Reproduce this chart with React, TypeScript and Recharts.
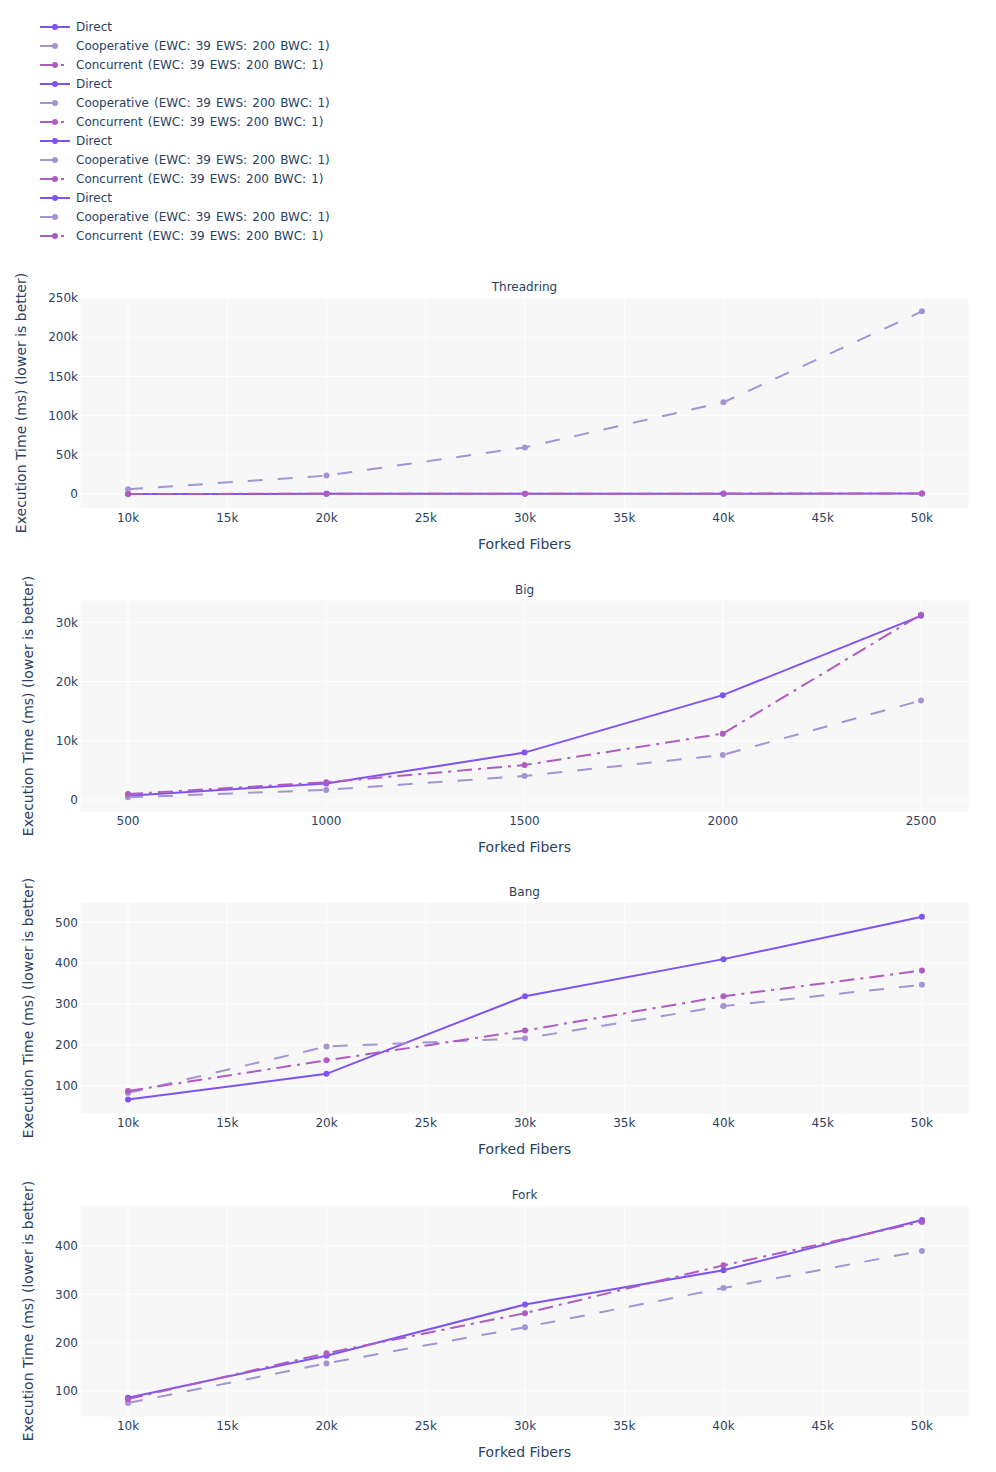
import { LineChart, Line, XAxis, YAxis, CartesianGrid } from "recharts";

// x values
const fibers = [10000, 20000, 30000, 40000, 50000];
const bigFibers = [500, 1000, 1500, 2000, 2500];

// Threadring
const threadringDirect = [110, 230, 340, 460, 570];
const threadringCoop = [6000, 23500, 59500, 117000, 233000];
const threadringConc = [130, 260, 390, 520, 650];

// Big
const bigDirect = [700, 2800, 8000, 17700, 31100];
const bigCoop = [450, 1700, 4050, 7600, 16800];
const bigConc = [1000, 3000, 5900, 11200, 31300];

// Bang
const bangDirect = [66, 129, 319, 410, 514];
const bangCoop = [82, 196, 216, 295, 347];
const bangConc = [87, 162, 235, 319, 382];

// Fork
const forkDirect = [86, 173, 279, 350, 454];
const forkCoop = [75, 157, 232, 313, 390];
const forkConc = [83, 178, 261, 360, 450];

const seriesNames = ["Direct", "Cooperative (EWC: 39 EWS: 200 BWC: 1)", "Concurrent (EWC: 39 EWS: 200 BWC: 1)"];
const kTicks = [10000, 15000, 20000, 25000, 30000, 35000, 40000, 45000, 50000];

const colors = ["#7f52f3", "#a593d4", "#ae5cc2"];
const dashes = ["", "15 15", "15 6 3 6"];
const textColor = "#2a3f5f";
const font = "'DejaVu Sans', Verdana, sans-serif";

const kFmt = (v: number) => (v === 0 ? "0" : v >= 1000 ? `${v / 1000}k` : `${v}`);

type Panel = {
  title: string;
  top: number;
  xs: number[];
  series: number[][];
  xDomain: [number, number];
  xTicks: number[];
  xFmt: (v: number) => string;
  yDomain: [number, number];
  yTicks: number[];
  yLabelX: number;
};

const panels: Panel[] = [
  {
    title: "Threadring",
    top: 297,
    xs: fibers,
    series: [threadringDirect, threadringCoop, threadringConc],
    xDomain: [7580, 52370],
    xTicks: kTicks,
    xFmt: kFmt,
    yDomain: [-19100, 251300],
    yTicks: [0, 50000, 100000, 150000, 200000, 250000],
    yLabelX: 21,
  },
  {
    title: "Big",
    top: 600,
    xs: bigFibers,
    series: [bigDirect, bigCoop, bigConc],
    xDomain: [379, 2621],
    xTicks: bigFibers,
    xFmt: (v) => `${v}`,
    yDomain: [-2030, 33770],
    yTicks: [0, 10000, 20000, 30000],
    yLabelX: 28,
  },
  {
    title: "Bang",
    top: 902,
    xs: fibers,
    series: [bangDirect, bangCoop, bangConc],
    xDomain: [7580, 52370],
    xTicks: kTicks,
    xFmt: kFmt,
    yDomain: [30.6, 550],
    yTicks: [100, 200, 300, 400, 500],
    yLabelX: 28,
  },
  {
    title: "Fork",
    top: 1205,
    xs: fibers,
    series: [forkDirect, forkCoop, forkConc],
    xDomain: [7580, 52370],
    xTicks: kTicks,
    xFmt: kFmt,
    yDomain: [46, 485],
    yTicks: [100, 200, 300, 400],
    yLabelX: 28,
  },
];

const Legend = () => {
  const items: number[] = [];
  for (let g = 0; g < 4; g++) for (let s = 0; s < 3; s++) items.push(s);
  return (
    <svg width={996} height={250} style={{ position: "absolute", left: 0, top: 0 }}>
      {items.map((s, i) => {
        const y = 27 + i * 19;
        return (
          <g key={i}>
            <line x1={40} x2={70} y1={y} y2={y} stroke={colors[s]} strokeWidth={2} strokeDasharray={dashes[s] || undefined} />
            <circle cx={55} cy={y} r={3} fill={colors[s]} />
            <text x={76} y={y + 4} fontSize={12} fill={textColor} fontFamily={font} wordSpacing={1.3}>
              {seriesNames[s]}
            </text>
          </g>
        );
      })}
    </svg>
  );
};

const PanelChart = ({ p }: { p: Panel }) => {
  const data = p.xs.map((x, i) => ({ x, s0: p.series[0][i], s1: p.series[1][i], s2: p.series[2][i] }));
  return (
    <div style={{ position: "absolute", left: 0, top: p.top - 27, width: 996, height: 290 }}>
      <div
        style={{
          position: "absolute",
          left: 80,
          width: 889,
          top: 10,
          textAlign: "center",
          fontSize: 12,
          lineHeight: "14px",
          color: textColor,
          fontFamily: font,
        }}
      >
        {p.title}
      </div>
      <LineChart width={996} height={290} data={data} margin={{ top: 27, right: 27, left: 0, bottom: 1 }}>
        <CartesianGrid fill="#f7f7f7" stroke="#ffffff" strokeWidth={1} fillOpacity={1} />
        <XAxis
          dataKey="x"
          type="number"
          domain={p.xDomain}
          ticks={p.xTicks}
          tickFormatter={p.xFmt}
          allowDataOverflow
          axisLine={false}
          tickLine={false}
          tickSize={0}
          tickMargin={4}
          height={50}
          interval={0}
          tick={{ fontSize: 12, fill: textColor, fontFamily: font }}
          label={{ value: "Forked Fibers", position: "insideTop", offset: 30, fontSize: 14, fill: textColor, fontFamily: font }}
        />
        <YAxis
          type="number"
          domain={p.yDomain}
          ticks={p.yTicks}
          tickFormatter={kFmt}
          allowDataOverflow
          axisLine={false}
          tickLine={false}
          tickSize={0}
          tickMargin={2}
          width={80}
          interval={0}
          tick={{ fontSize: 12, fill: textColor, fontFamily: font }}
          label={{
            value: "Execution Time (ms) (lower is better)",
            angle: -90,
            position: "insideLeft",
            offset: p.yLabelX,
            fontSize: 14,
            fill: textColor,
            fontFamily: font,
            style: { textAnchor: "middle" },
          }}
        />
        {[0, 1, 2].map((s) => (
          <Line
            key={s}
            dataKey={`s${s}`}
            type="linear"
            stroke={colors[s]}
            strokeWidth={2}
            strokeDasharray={dashes[s] || undefined}
            dot={{ r: 3, fill: colors[s], stroke: colors[s], strokeWidth: 0, strokeDasharray: "" }}
            activeDot={false}
            isAnimationActive={false}
          />
        ))}
      </LineChart>
    </div>
  );
};

const App = () => (
  <div style={{ position: "absolute", left: 0, top: 0, width: 996, height: 1472, background: "#ffffff", fontFamily: font }}>
    <Legend />
    {panels.map((p) => (
      <PanelChart key={p.title} p={p} />
    ))}
  </div>
);

export default App;
